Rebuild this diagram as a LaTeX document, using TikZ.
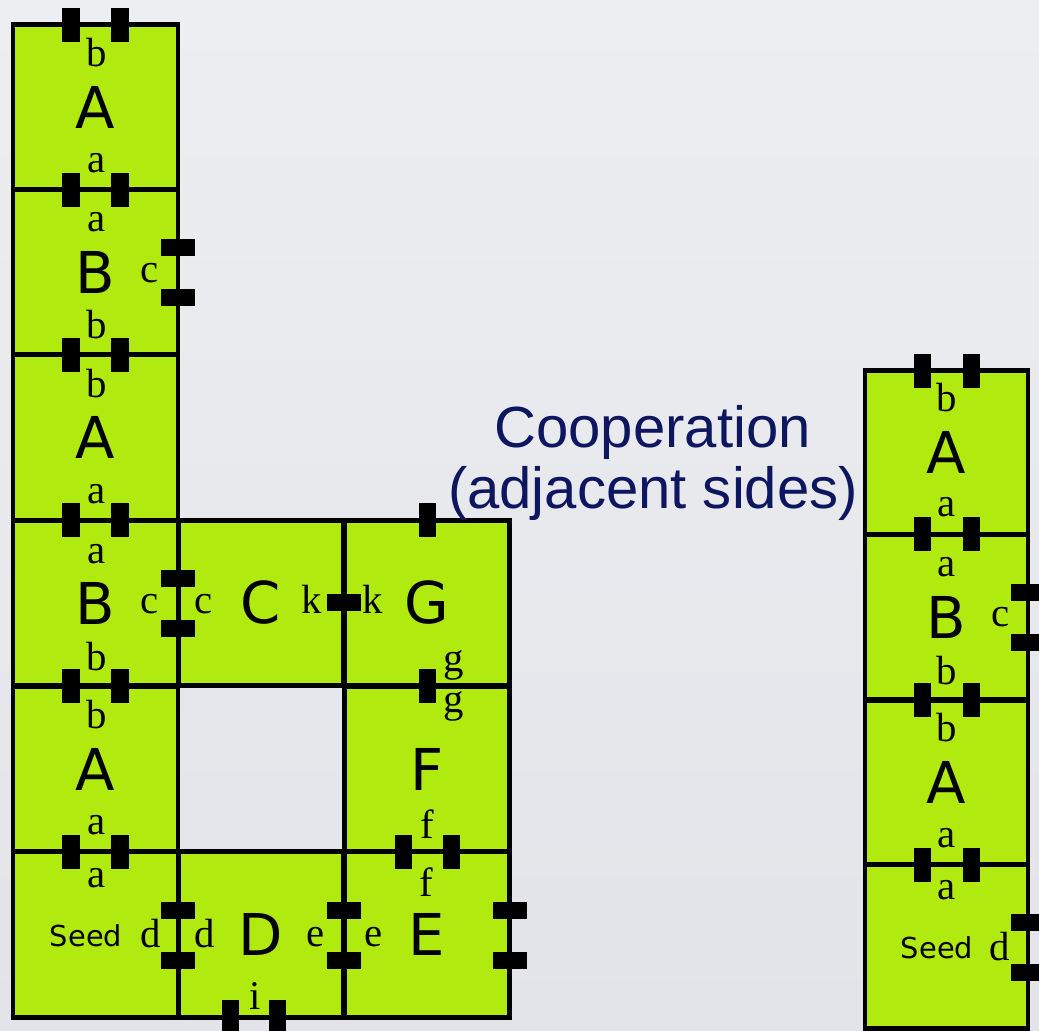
\documentclass[tikz,border=0pt]{standalone}
\usepackage{fontspec}
\newfontfamily\tilefont{DejaVu Sans}
\newfontfamily\gluefont{Liberation Serif}
\newfontfamily\titlefont{Liberation Sans}
\definecolor{tilegreen}{RGB}{176,234,14}
\definecolor{titleblue}{RGB}{14,22,95}
\definecolor{bgtop}{RGB}{237,238,241}
\definecolor{bgbot}{RGB}{226,228,233}

\begin{document}
\begin{tikzpicture}[x=0.025cm, y=-0.025cm,
    tile/.style={draw, line width=3.5pt, fill=tilegreen, minimum width=4.125cm, minimum height=4.13cm, inner sep=0pt, font=\tilefont\fontsize{41}{41}\selectfont},
    rtile/.style={tile, minimum width=4.075cm, minimum height=4.1cm},
    gluev/.style={fill=black, minimum width=0.425cm, minimum height=0.85cm, inner sep=0pt},
    glueh/.style={fill=black, minimum width=0.85cm, minimum height=0.425cm, inner sep=0pt},
    glab/.style={anchor=base, inner sep=0pt, font=\gluefont\fontsize{29}{29}\selectfont},
    seedtxt/.style={anchor=base, inner sep=0pt, font=\tilefont\fontsize{20.5}{20.5}\selectfont},
    title/.style={anchor=base, inner sep=0pt, text=titleblue, font=\titlefont\fontsize{41.3}{44}\selectfont}]
    \shade[top color=bgtop, bottom color=bgbot] (0,0) rectangle (1039,1031);
    \useasboundingbox (0,0) rectangle (1039,1031);

    % left assembly
    \node[tile] (a1) at (95.5,107.5) {A};
    \node[tile] (b1) at (95.5,272.5) {B};
    \node[tile] (a2) at (95.5,437.5) {A};
    \node[tile] (b2) at (95.5,603) {B};
    \node[tile] (a3) at (95.5,769) {A};
    \node[tile] (seed) at (95.5,934.5) {};
    \node[tile] (c) at (261,603) {C};
    \node[tile] (g) at (427,603) {G};
    \node[tile] (f) at (427,769) {F};
    \node[tile] (d) at (261,934.5) {D};
    \node[tile] (e) at (427,934.5) {E};

    % right assembly
    \node[rtile] (ra1) at (946.5,452.5) {A};
    \node[rtile] (rb) at (946.5,617) {B};
    \node[rtile] (ra2) at (946.5,782.5) {A};
    \node[rtile] (rseed) at (946.5,946.5) {};

    % glues on horizontal edges
    \foreach \y in {25,190,355,520,686,852}
        \foreach \x in {71,120}
            \node[gluev] (gl\x-\y) at (\x,\y) {};
    \foreach \y in {371,534,700,865}
        \foreach \x in {922,971}
            \node[gluev] (gr\x-\y) at (\x,\y) {};
    \node[gluev] (gtop) at (427,520) {};
    \node[gluev] (ggf) at (427,686) {};
    \node[gluev] (gf1) at (403,852) {};
    \node[gluev] (gf2) at (451,852) {};
    \node[gluev] (gi1) at (230,1017) {};
    \node[gluev] (gi2) at (277,1017) {};

    % glues on vertical edges
    \node[glueh] (gc1) at (178,247.5) {};
    \node[glueh] (gc2) at (178,297.5) {};
    \node[glueh] (gbc1) at (178,578) {};
    \node[glueh] (gbc2) at (178,628) {};
    \node[glueh] (gk) at (344,602) {};
    \foreach \x in {178,344,510}
        \foreach \y in {910,960}
            \node[glueh] (gv\x-\y) at (\x,\y) {};
    \node[glueh] (grc1) at (1028,592) {};
    \node[glueh] (grc2) at (1028,642) {};
    \node[glueh] (grd1) at (1028,922) {};
    \node[glueh] (grd2) at (1028,972) {};

    % glue labels, left
    \node[glab] (la1b) at (97,67) {b};
    \node[glab] (la1a) at (97,173) {a};
    \node[glab] (lb1a) at (97,232) {a};
    \node[glab] (lb1b) at (97,338) {b};
    \node[glab] (lb1c) at (150,282) {c};
    \node[glab] (la2b) at (97,397) {b};
    \node[glab] (la2a) at (97,503) {a};
    \node[glab] (lb2a) at (97,563) {a};
    \node[glab] (lb2b) at (97,670) {b};
    \node[glab] (lb2c) at (150,613) {c};
    \node[glab] (la3b) at (97,728) {b};
    \node[glab] (la3a) at (97,834) {a};
    \node[glab] (lsa) at (97,887) {a};
    \node[glab] (lsd) at (151,947) {d};
    \node[seedtxt] (lseed) at (86,946.5) {Seed};
    \node[glab] (lcc) at (204,613) {c};
    \node[glab] (lck) at (312,613) {k};
    \node[glab] (lgk) at (373,613) {k};
    \node[glab] (lgg) at (454,671) {g};
    \node[glab] (lfg) at (454,712) {g};
    \node[glab] (lff) at (427,838) {f};
    \node[glab] (ldd) at (205,947) {d};
    \node[glab] (lde) at (316,946) {e};
    \node[glab] (ldi) at (255,1009) {i};
    \node[glab] (lee) at (374,946) {e};
    \node[glab] (lef) at (426,896) {f};

    % glue labels, right
    \node[glab] (lra1b) at (947,411) {b};
    \node[glab] (lra1a) at (947,516) {a};
    \node[glab] (lrba) at (947,576) {a};
    \node[glab] (lrbb) at (947,684) {b};
    \node[glab] (lrbc) at (1001,626) {c};
    \node[glab] (lra2b) at (947,741) {b};
    \node[glab] (lra2a) at (947,847) {a};
    \node[glab] (lrsa) at (947,899) {a};
    \node[seedtxt] (lrseed) at (937,958) {Seed};
    \node[glab] (lrsd) at (1000,960) {d};

    \node[title] (coop) at (652.5,447) {Cooperation};
    \node[title] (adj) at (653,508) {(adjacent sides)};
\end{tikzpicture}
\end{document}
